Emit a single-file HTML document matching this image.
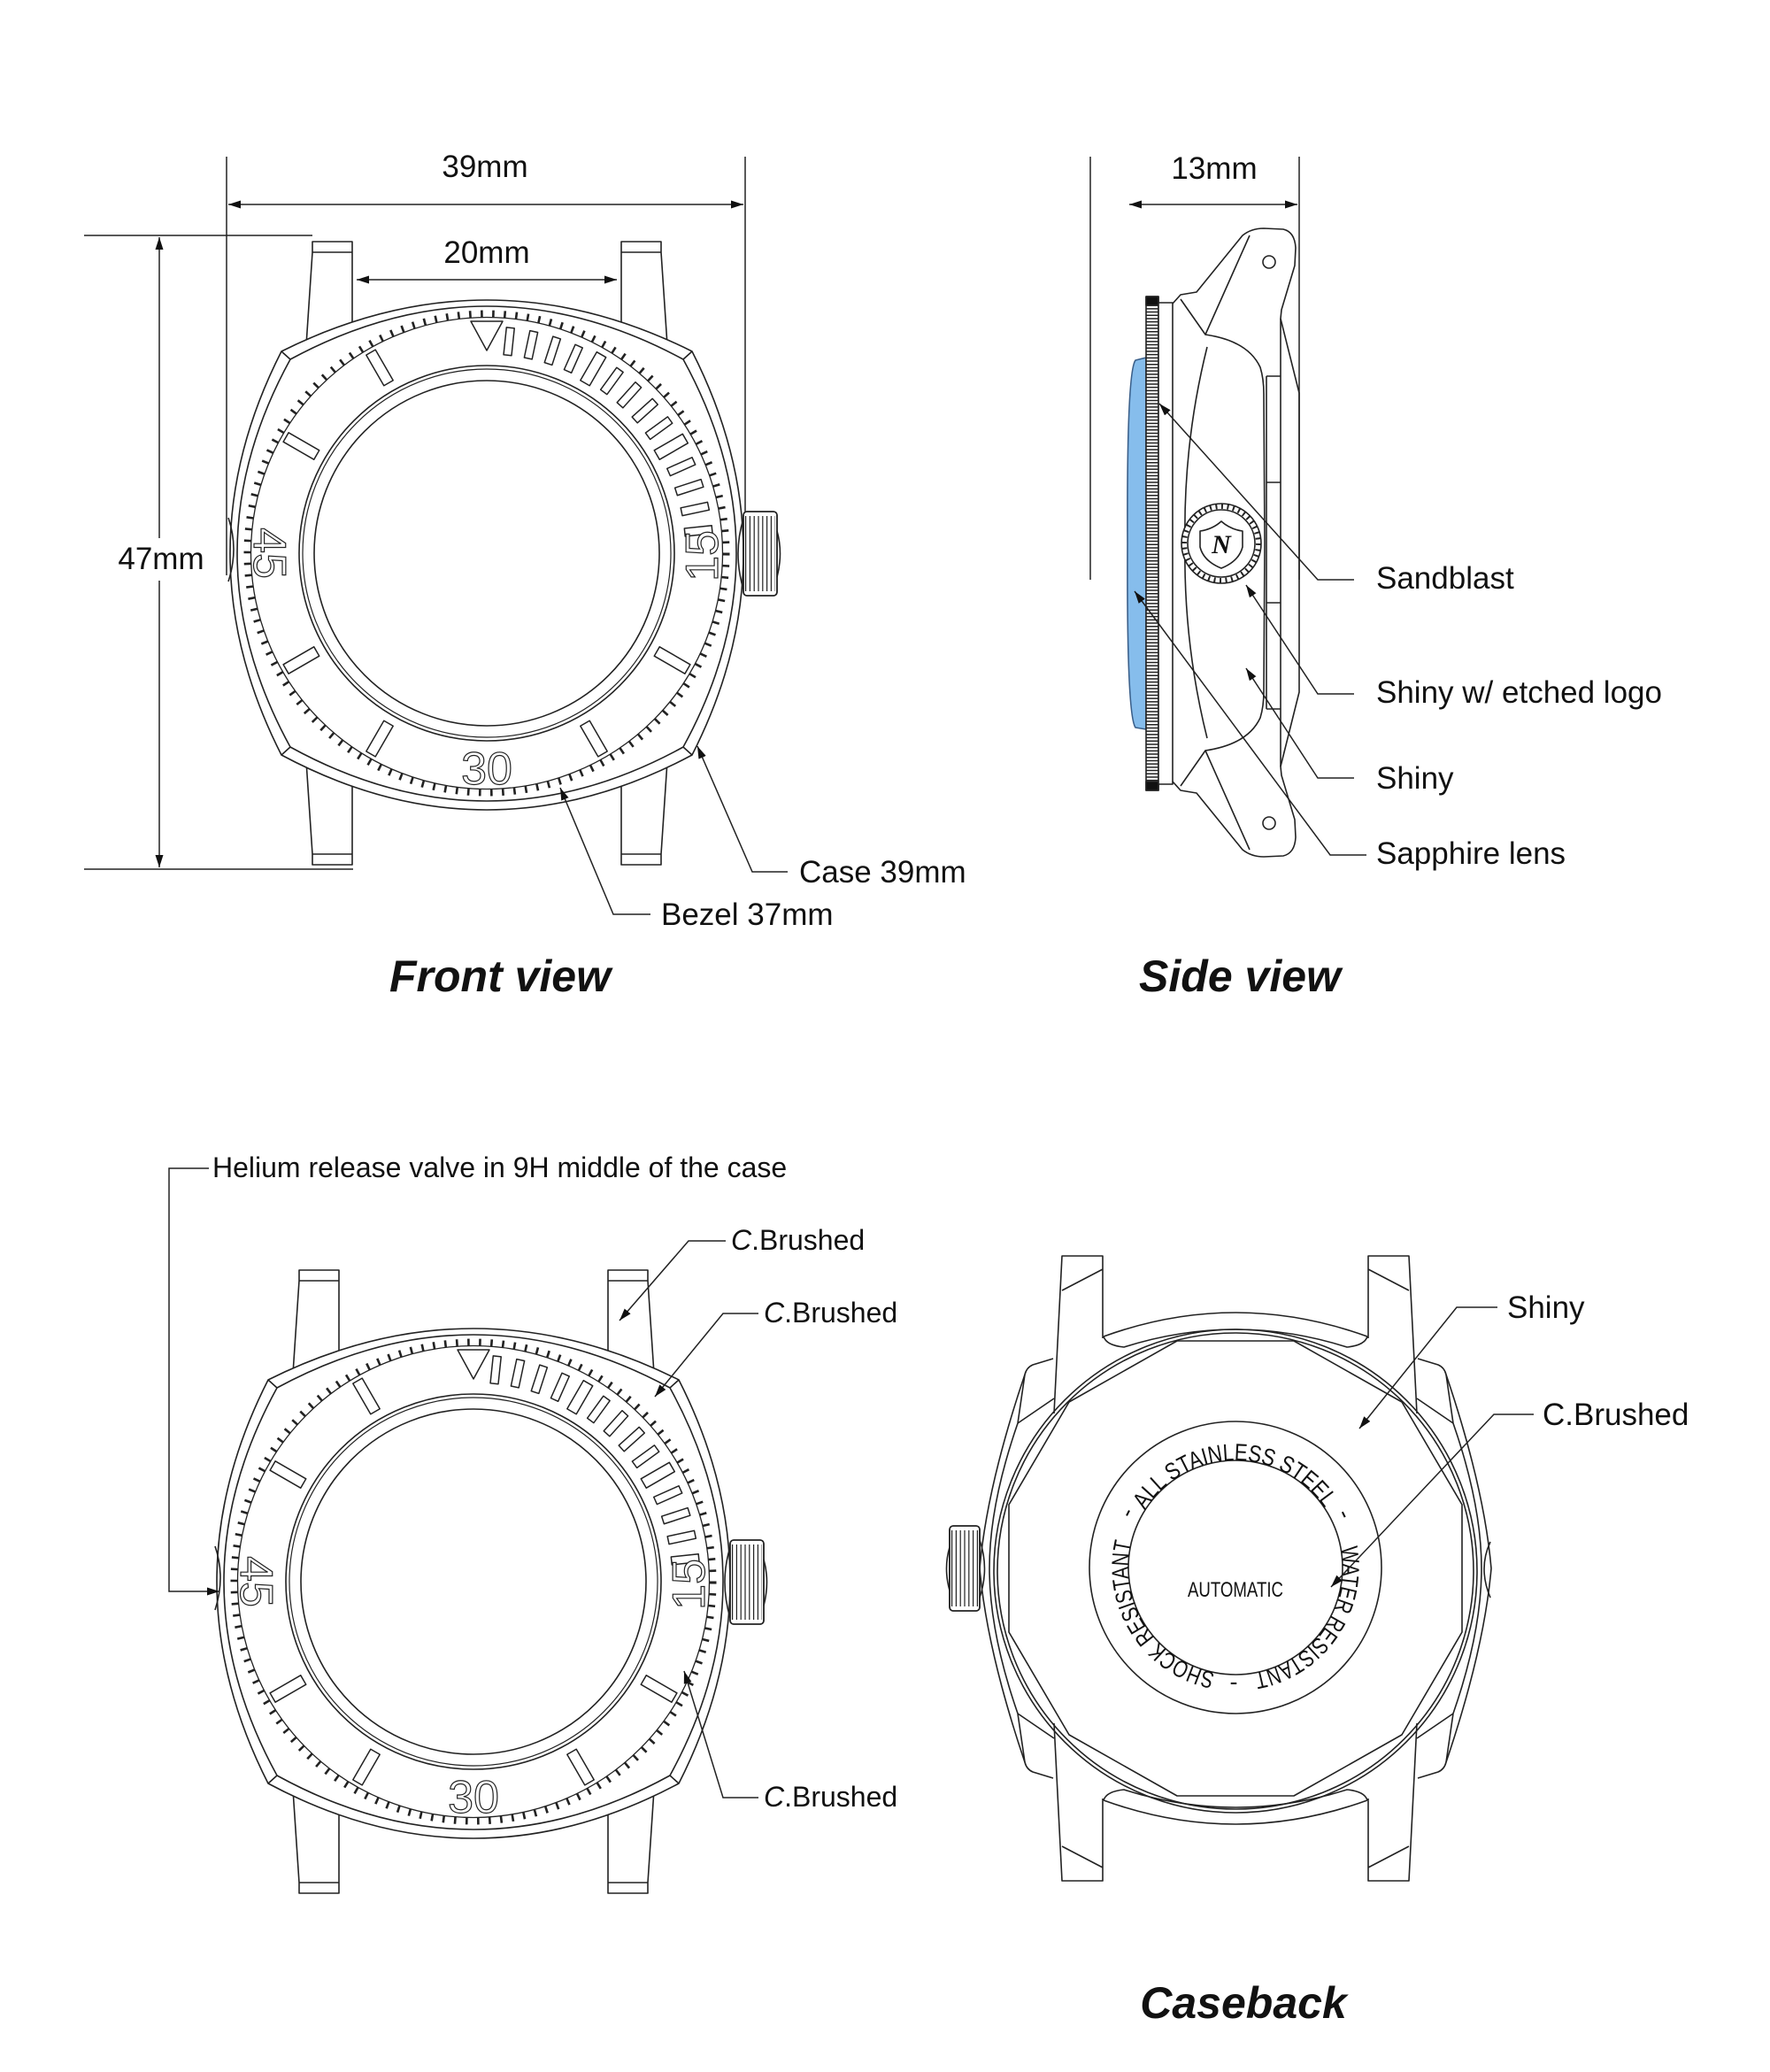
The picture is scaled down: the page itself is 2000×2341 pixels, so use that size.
<!DOCTYPE html>
<html><head><meta charset="utf-8"><style>
html,body{margin:0;padding:0;background:#fff;}
svg{display:block;}
text{font-family:"Liberation Sans",Arial,sans-serif;fill:#111;}
</style></head><body>
<svg width="2000" height="2341" viewBox="0 0 2000 2341" xmlns="http://www.w3.org/2000/svg">
<defs>
<marker id="a" viewBox="0 0 14 9" refX="14" refY="4.5" markerWidth="14" markerHeight="9" markerUnits="userSpaceOnUse" orient="auto-start-reverse"><path d="M0,0 L14,4.5 L0,9 Z" fill="#111"/></marker>
</defs>
<rect width="2000" height="2341" fill="#fff"/>

<!-- ================= FRONT VIEW ================= -->
<g id="fw">
<g fill="none" stroke="#222" stroke-width="1.6" stroke-linejoin="round">
<path d="M346,390 L353,285 L353,273 L398,273 L398,366 M353,285 L398,285"/>
<path d="M754,390 L747,285 L747,273 L702,273 L702,366 M747,285 L702,285"/>
<path d="M346,860 L353,965 L353,977 L398,977 L398,884 M353,965 L398,965"/>
<path d="M754,860 L747,965 L747,977 L702,977 L702,884 M747,965 L702,965"/>
<path fill="#fff" d="M318,397 Q550,281 782,397 Q898,625 782,853 Q550,977 318,853 Q202,625 318,397 Z"/>
<path d="M328,406 Q550,286 772,406 Q892,625 772,844 Q550,966 328,844 Q208,625 328,406 Z"/>
<path d="M318,397 L328,406 M782,397 L772,406 M318,853 L328,844 M782,853 L772,844"/>
<path d="M258,585 Q270,620 258,657"/>
<circle cx="550" cy="625" r="277" fill="#fff" stroke="none"/>
<circle cx="550" cy="625" r="270.5" stroke-width="8" pathLength="130" stroke-dasharray="0.2 0.8"/>
<circle cx="550" cy="625" r="266.5" stroke-width="1.3"/>
<circle cx="550" cy="625" r="212"/>
<circle cx="550" cy="625" r="208" stroke-width="1.2"/>
<circle cx="550" cy="625" r="195"/>
<g transform="translate(550,625)" fill="#fff" stroke-width="1.5">
<path d="M-18,-262 L18,-262 L0,-229 Z"/>
<rect x="-4.5" y="-256" width="9" height="31" transform="rotate(6)"/>
<rect x="-4.5" y="-256" width="9" height="31" transform="rotate(12)"/>
<rect x="-4.5" y="-256" width="9" height="31" transform="rotate(18)"/>
<rect x="-4.5" y="-256" width="9" height="31" transform="rotate(24)"/>
<rect x="-6" y="-259" width="12" height="37" transform="rotate(30)"/>
<rect x="-4.5" y="-256" width="9" height="31" transform="rotate(36)"/>
<rect x="-4.5" y="-256" width="9" height="31" transform="rotate(42)"/>
<rect x="-4.5" y="-256" width="9" height="31" transform="rotate(48)"/>
<rect x="-4.5" y="-256" width="9" height="31" transform="rotate(54)"/>
<rect x="-6" y="-259" width="12" height="37" transform="rotate(60)"/>
<rect x="-4.5" y="-256" width="9" height="31" transform="rotate(66)"/>
<rect x="-4.5" y="-256" width="9" height="31" transform="rotate(72)"/>
<rect x="-4.5" y="-256" width="9" height="31" transform="rotate(78)"/>
<rect x="-4.5" y="-256" width="9" height="31" transform="rotate(84)"/>
<rect x="-6" y="-262" width="12" height="40" transform="rotate(120)"/>
<rect x="-6" y="-262" width="12" height="40" transform="rotate(150)"/>
<rect x="-6" y="-262" width="12" height="40" transform="rotate(210)"/>
<rect x="-6" y="-262" width="12" height="40" transform="rotate(240)"/>
<rect x="-6" y="-262" width="12" height="40" transform="rotate(300)"/>
<rect x="-6" y="-262" width="12" height="40" transform="rotate(330)"/>
</g>
<path d="M840,586 Q828,625 840,666"/>
<rect x="840" y="578" width="38" height="95" rx="4" fill="#fff"/>
<line x1="842" y1="625.5" x2="876" y2="625.5" stroke-width="85" stroke-dasharray="1.2 3.6"/>
<rect x="840" y="578" width="38" height="95" rx="4"/>
<path d="M878,600 Q885,625 878,652"/>
</g>
<g style="font-size:52px" stroke="#222" stroke-width="1.2" text-anchor="middle">
<text transform="translate(793,628) rotate(-90)" y="18" style="fill:#fff">15</text>
<text transform="translate(550,868)" y="18" style="fill:#fff">30</text>
<text transform="translate(305,625) rotate(90)" y="18" style="fill:#fff">45</text>
</g>
</g>

<!-- front view dimensions -->
<g fill="none" stroke="#222" stroke-width="1.5">
<line x1="256" y1="177" x2="256" y2="650"/>
<line x1="842" y1="177" x2="842" y2="578"/>
<line x1="258" y1="231" x2="840" y2="231" marker-start="url(#a)" marker-end="url(#a)"/>
<line x1="403" y1="316" x2="697" y2="316" marker-start="url(#a)" marker-end="url(#a)"/>
<line x1="95" y1="266" x2="353" y2="266"/>
<line x1="95" y1="982" x2="399" y2="982"/>
<line x1="180" y1="608" x2="180" y2="268" marker-end="url(#a)"/>
<line x1="180" y1="656" x2="180" y2="980" marker-end="url(#a)"/>
<polyline points="890,985 850,985 788,843" marker-end="url(#a)"/>
<polyline points="735,1033 693,1033 633,890" marker-end="url(#a)"/>
</g>
<text x="548" y="200" font-size="35" text-anchor="middle">39mm</text>
<text x="550" y="297" font-size="35" text-anchor="middle">20mm</text>
<text x="182" y="643" font-size="35" text-anchor="middle">47mm</text>
<text x="903" y="997" font-size="35">Case 39mm</text>
<text x="747" y="1045" font-size="35">Bezel 37mm</text>
<text x="565" y="1120" font-size="50" font-weight="bold" font-style="italic" text-anchor="middle">Front view</text>

<!-- ================= SIDE VIEW ================= -->
<g fill="none" stroke="#222" stroke-width="1.5">
<line x1="1232" y1="177" x2="1232" y2="655"/>
<line x1="1468" y1="177" x2="1468" y2="655"/>
<line x1="1276" y1="231" x2="1466" y2="231" marker-start="url(#a)" marker-end="url(#a)"/>
</g>
<text x="1372" y="202" font-size="35" text-anchor="middle">13mm</text>

<g fill="none" stroke="#222" stroke-width="1.6" stroke-linejoin="round">
<path d="M1295,404 L1283,407 Q1273,420 1274,614 Q1273,808 1283,822 L1295,824 Z" fill="#86bdec" stroke="#3a5f8a"/>
<rect x="1295" y="335" width="14" height="558" fill="#fff"/>
<line x1="1302" y1="337" x2="1302" y2="891" stroke-width="14" stroke-dasharray="1.5 2.2"/>
<rect x="1295" y="335" width="14" height="10" fill="#111"/>
<rect x="1295" y="883" width="14" height="10" fill="#111"/>
<rect x="1309" y="342" width="16" height="544" fill="#fff"/>
<g>
<path d="M1325,343 L1334,333 L1352,330 L1404,266 Q1414,258 1428,258 L1450,259 Q1463,262 1464,280 L1463,300 L1448,350 L1447,360 L1468,444 L1468,613"/>
<path d="M1334,338 L1362,378 L1412,266"/>
<path d="M1362,378 Q1410,385 1424,415 Q1428,428 1428,445 L1429,613"/>
<path d="M1364,392 Q1337,500 1339,613"/>
<path d="M1431,425 L1431,613 M1447,360 L1447,613 M1431,425 L1447,425 M1431,545 L1447,545"/>
<circle cx="1434" cy="296" r="7"/>
</g>
<g transform="matrix(1,0,0,-1,0,1226)">
<path d="M1325,343 L1334,333 L1352,330 L1404,266 Q1414,258 1428,258 L1450,259 Q1463,262 1464,280 L1463,300 L1448,350 L1447,360 L1468,444 L1468,613"/>
<path d="M1334,338 L1362,378 L1412,266"/>
<path d="M1362,378 Q1410,385 1424,415 Q1428,428 1428,445 L1429,613"/>
<path d="M1364,392 Q1337,500 1339,613"/>
<path d="M1431,425 L1431,613 M1447,360 L1447,613 M1431,425 L1447,425 M1431,545 L1447,545"/>
<circle cx="1434" cy="296" r="7"/>
</g>
<g transform="translate(1380,614)">
<circle r="45" fill="#fff"/>
<circle r="42" stroke-width="6" pathLength="40" stroke-dasharray="0.3 0.7"/>
<circle r="38" fill="#fff"/>
<path d="M-24,-14 Q-10,-16 0,-25 Q10,-16 24,-14 L24,4 Q20,20 0,28 Q-20,20 -24,4 Z"/>
</g>
</g>
<text x="1380" y="625" font-size="30" font-weight="bold" font-style="italic" text-anchor="middle" style="font-family:'Liberation Serif',serif">N</text>

<g fill="none" stroke="#222" stroke-width="1.5">
<polyline points="1530,655 1489,655 1310,456" marker-end="url(#a)"/>
<polyline points="1530,784 1489,784 1408,661" marker-end="url(#a)"/>
<polyline points="1530,879 1489,879 1408,755" marker-end="url(#a)"/>
<polyline points="1544,966 1503,966 1282,668" marker-end="url(#a)"/>
</g>
<text x="1555" y="665" font-size="35">Sandblast</text>
<text x="1555" y="794" font-size="35">Shiny w/ etched logo</text>
<text x="1555" y="891" font-size="35">Shiny</text>
<text x="1555" y="976" font-size="35">Sapphire lens</text>
<text x="1401" y="1120" font-size="50" font-weight="bold" font-style="italic" text-anchor="middle">Side view</text>

<!-- ================= BOTTOM-LEFT WATCH ================= -->
<g transform="translate(-15,1162)">
<g fill="none" stroke="#222" stroke-width="1.6" stroke-linejoin="round">
<path d="M346,390 L353,285 L353,273 L398,273 L398,366 M353,285 L398,285"/>
<path d="M754,390 L747,285 L747,273 L702,273 L702,366 M747,285 L702,285"/>
<path d="M346,860 L353,965 L353,977 L398,977 L398,884 M353,965 L398,965"/>
<path d="M754,860 L747,965 L747,977 L702,977 L702,884 M747,965 L702,965"/>
<path fill="#fff" d="M318,397 Q550,281 782,397 Q898,625 782,853 Q550,977 318,853 Q202,625 318,397 Z"/>
<path d="M328,406 Q550,286 772,406 Q892,625 772,844 Q550,966 328,844 Q208,625 328,406 Z"/>
<path d="M318,397 L328,406 M782,397 L772,406 M318,853 L328,844 M782,853 L772,844"/>
<path d="M258,585 Q270,620 258,657"/>
<circle cx="550" cy="625" r="277" fill="#fff" stroke="none"/>
<circle cx="550" cy="625" r="270.5" stroke-width="8" pathLength="130" stroke-dasharray="0.2 0.8"/>
<circle cx="550" cy="625" r="266.5" stroke-width="1.3"/>
<circle cx="550" cy="625" r="212"/>
<circle cx="550" cy="625" r="208" stroke-width="1.2"/>
<circle cx="550" cy="625" r="195"/>
<g transform="translate(550,625)" fill="#fff" stroke-width="1.5">
<path d="M-18,-262 L18,-262 L0,-229 Z"/>
<rect x="-4.5" y="-256" width="9" height="31" transform="rotate(6)"/>
<rect x="-4.5" y="-256" width="9" height="31" transform="rotate(12)"/>
<rect x="-4.5" y="-256" width="9" height="31" transform="rotate(18)"/>
<rect x="-4.5" y="-256" width="9" height="31" transform="rotate(24)"/>
<rect x="-6" y="-259" width="12" height="37" transform="rotate(30)"/>
<rect x="-4.5" y="-256" width="9" height="31" transform="rotate(36)"/>
<rect x="-4.5" y="-256" width="9" height="31" transform="rotate(42)"/>
<rect x="-4.5" y="-256" width="9" height="31" transform="rotate(48)"/>
<rect x="-4.5" y="-256" width="9" height="31" transform="rotate(54)"/>
<rect x="-6" y="-259" width="12" height="37" transform="rotate(60)"/>
<rect x="-4.5" y="-256" width="9" height="31" transform="rotate(66)"/>
<rect x="-4.5" y="-256" width="9" height="31" transform="rotate(72)"/>
<rect x="-4.5" y="-256" width="9" height="31" transform="rotate(78)"/>
<rect x="-4.5" y="-256" width="9" height="31" transform="rotate(84)"/>
<rect x="-6" y="-262" width="12" height="40" transform="rotate(120)"/>
<rect x="-6" y="-262" width="12" height="40" transform="rotate(150)"/>
<rect x="-6" y="-262" width="12" height="40" transform="rotate(210)"/>
<rect x="-6" y="-262" width="12" height="40" transform="rotate(240)"/>
<rect x="-6" y="-262" width="12" height="40" transform="rotate(300)"/>
<rect x="-6" y="-262" width="12" height="40" transform="rotate(330)"/>
</g>
<path d="M840,586 Q828,625 840,666"/>
<rect x="840" y="578" width="38" height="95" rx="4" fill="#fff"/>
<line x1="842" y1="625.5" x2="876" y2="625.5" stroke-width="85" stroke-dasharray="1.2 3.6"/>
<rect x="840" y="578" width="38" height="95" rx="4"/>
<path d="M878,600 Q885,625 878,652"/>
</g>
<g style="font-size:52px" stroke="#222" stroke-width="1.2" text-anchor="middle">
<text transform="translate(793,628) rotate(-90)" y="18" style="fill:#fff">15</text>
<text transform="translate(550,868)" y="18" style="fill:#fff">30</text>
<text transform="translate(305,625) rotate(90)" y="18" style="fill:#fff">45</text>
</g>
</g>

<g fill="none" stroke="#222" stroke-width="1.5">
<polyline points="236,1320 191,1320 191,1798 248,1798" marker-end="url(#a)"/>
<polyline points="820,1402 778,1402 700,1492" marker-end="url(#a)"/>
<polyline points="857,1484 817,1484 740,1578" marker-end="url(#a)"/>
<polyline points="857,2031 817,2031 773,1888" marker-end="url(#a)"/>
</g>
<text x="240" y="1330" font-size="32">Helium release valve in 9H middle of the case</text>
<text x="826" y="1412" font-size="32"><tspan font-style="italic">C</tspan>.Brushed</text>
<text x="863" y="1494" font-size="32"><tspan font-style="italic">C</tspan>.Brushed</text>
<text x="863" y="2041" font-size="32"><tspan font-style="italic">C</tspan>.Brushed</text>

<!-- ================= CASEBACK ================= -->
<g fill="none" stroke="#222" stroke-width="1.6" stroke-linejoin="round">
<!-- lugs -->
<path d="M1191,1597 L1200,1419 L1246,1419 L1246,1512 M1200,1458 L1246,1434"/>
<path d="M1191,1947 L1200,2125 L1246,2125 L1246,2032 M1200,2086 L1246,2110"/>
<path d="M1601,1597 L1592,1419 L1546,1419 L1546,1512 M1592,1458 L1546,1434"/>
<path d="M1601,1947 L1592,2125 L1546,2125 L1546,2032 M1592,2086 L1546,2110"/>
<!-- left wing -->
<path d="M1190,1535 L1167,1542 Q1160,1545 1158,1553 Q1115,1680 1107,1772 Q1115,1864 1158,1991 Q1160,1999 1167,2002 L1190,2009"/>
<path d="M1158,1553 L1150,1608 Q1118,1700 1118,1772 Q1118,1844 1150,1936 L1158,1991"/>
<path d="M1150,1608 L1191,1580 M1150,1936 L1191,1964"/>
<!-- right wing -->
<g transform="matrix(-1,0,0,1,2792,0)">
<path d="M1190,1535 L1167,1542 Q1160,1545 1158,1553 Q1115,1680 1107,1772 Q1115,1864 1158,1991 Q1160,1999 1167,2002 L1190,2009"/>
<path d="M1158,1553 L1150,1608 Q1118,1700 1118,1772 Q1118,1844 1150,1936 L1158,1991"/>
<path d="M1150,1608 L1191,1580 M1150,1936 L1191,1964"/>
<path d="M1108,1742 Q1122,1772 1108,1805"/>
</g>
<!-- top/bottom bands -->
<path d="M1247,1510 Q1396,1456 1545,1510 M1247,1510 Q1250,1520 1270,1522 Q1396,1482 1522,1522 Q1542,1520 1545,1510"/>
<g transform="matrix(1,0,0,-1,0,3544)">
<path d="M1247,1510 Q1396,1456 1545,1510 M1247,1510 Q1250,1520 1270,1522 Q1396,1482 1522,1522 Q1542,1520 1545,1510"/>
</g>
<!-- facets -->
<path d="M1462,1515 L1330,1515 L1208,1584 L1140,1700 L1140,1844 L1208,1960 L1330,2029 L1462,2029 L1584,1960 L1652,1844 L1652,1700 L1584,1584 Z"/>
<circle cx="1396" cy="1775" r="273"/>
<circle cx="1396" cy="1775" r="269"/>
<circle cx="1396" cy="1771" r="165" fill="#fff"/>
<!-- crown -->
<path d="M1107,1740 Q1118,1772 1107,1805"/>
<rect x="1073" y="1724" width="34" height="96" rx="4" fill="#fff"/>
<line x1="1075" y1="1772" x2="1105" y2="1772" stroke-width="86" stroke-dasharray="1.2 3.6"/>
<rect x="1073" y="1724" width="34" height="96" rx="4"/>
<path d="M1073,1748 Q1066,1772 1073,1797"/>
<path id="cb" d="M1396,1892 A121,121 0 1 1 1396,1650 A121,121 0 1 1 1396,1892"/>
<path id="cb2" d="M1396,1900 A129,129 0 1 1 1396,1642 A129,129 0 1 1 1396,1900" stroke="none"/>
</g>
<g font-size="27">
<text><textPath href="#cb" startOffset="23" textLength="196" lengthAdjust="spacingAndGlyphs">SHOCK RESISTANT</textPath></text>
<text><textPath href="#cb" startOffset="258" textLength="241" lengthAdjust="spacingAndGlyphs">ALL STAINLESS STEEL</textPath></text>
<text><textPath href="#cb" startOffset="547" textLength="192" lengthAdjust="spacingAndGlyphs">WATER RESISTANT</textPath></text>
<text text-anchor="middle"><textPath href="#cb2" startOffset="263">-</textPath></text>
<text text-anchor="middle"><textPath href="#cb2" startOffset="549">-</textPath></text>
</g>
<text x="1394" y="1909" font-size="27" text-anchor="middle">-</text>
<text x="1396" y="1804" font-size="24" text-anchor="middle" textLength="108" lengthAdjust="spacingAndGlyphs">AUTOMATIC</text>

<g fill="none" stroke="#222" stroke-width="1.5">
<polyline points="1692,1477 1646,1477 1536,1614" marker-end="url(#a)"/>
<polyline points="1733,1598 1688,1598 1504,1793" marker-end="url(#a)"/>
</g>
<text x="1703" y="1489" font-size="35">Shiny</text>
<text x="1743" y="1610" font-size="35">C.Brushed</text>
<text x="1405" y="2280" font-size="50" font-weight="bold" font-style="italic" text-anchor="middle">Caseback</text>
</svg>
</body></html>
